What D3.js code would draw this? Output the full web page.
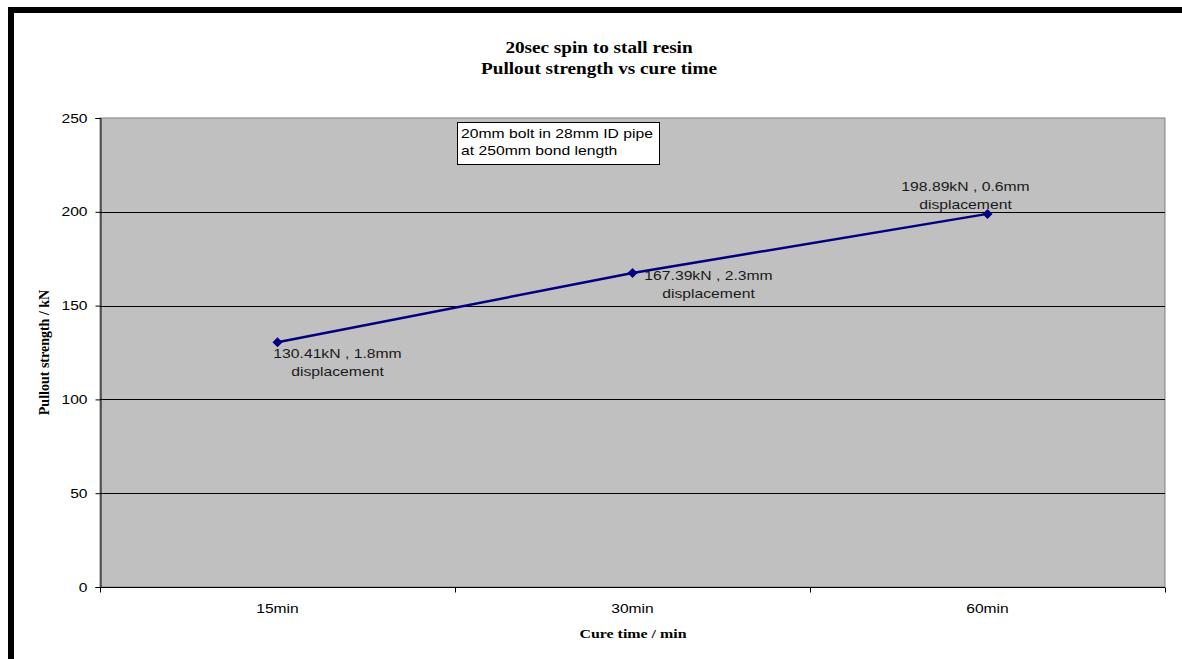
<!DOCTYPE html>
<html>
<head>
<meta charset="utf-8">
<script src="https://cdn.jsdelivr.net/npm/d3@7"></script>
<style>
  html, body { margin: 0; padding: 0; background: #fff; }
  svg { display: block; }
</style>
</head>
<body>
<svg id="chart" width="1182" height="659"></svg>
<script>
// Pullout test results
const categories = ["15min", "30min", "60min"];
const strength = [130.41, 167.39, 198.89];
const displacement = ["1.8mm", "2.3mm", "0.6mm"];
const yTicks = [0, 50, 100, 150, 200, 250];
const titleLines = ["20sec spin to stall resin", "Pullout strength vs cure time"];
const noteLines = ["20mm bolt in 28mm ID pipe", "at 250mm bond length"];
// label placement relative to each point (dx, dy of first line)
const labelOffsets = [[60, 11], [76, 2], [-22, -27]];

const SANS = "Liberation Sans, Arial, sans-serif";
const SERIF = "Liberation Serif, Times New Roman, serif";
const SX = 1.2; // wide glyph proportions of the original export

const svg = d3.select("#chart");
const W = 1182, H = 659;
const plot = { left: 100, top: 118, right: 1165, bottom: 587 };

// places text at (x, y) with horizontally widened glyphs
function wideText(parent, x, y, lines, opt) {
  const t = parent.append("text")
    .attr("transform", `translate(${x},${y}) scale(${opt.sx || SX},1)`)
    .attr("text-anchor", opt.anchor || "middle")
    .attr("font-family", opt.family || SANS)
    .attr("font-weight", opt.weight || "normal")
    .attr("font-size", opt.size || 13)
    .attr("fill", opt.fill || "#000");
  lines.forEach((s, i) => {
    t.append("tspan").attr("x", 0).attr("y", i * (opt.lh || 17)).attr("dy", "0.35em").text(s);
  });
  return t;
}

// frame edges
svg.append("rect").attr("x", 8).attr("y", 7).attr("width", W - 8).attr("height", 6).attr("fill", "#000");
svg.append("rect").attr("x", 8).attr("y", 7).attr("width", 6).attr("height", H - 7).attr("fill", "#000");

const x = d3.scaleBand().domain(categories).range([plot.left, plot.right]);
const y = d3.scaleLinear().domain([0, 250]).range([plot.bottom, plot.top]);

// plot background
svg.append("rect")
  .attr("x", plot.left).attr("y", plot.top)
  .attr("width", plot.right - plot.left).attr("height", plot.bottom - plot.top)
  .attr("fill", "#c0c0c0").attr("stroke", "#808080").attr("stroke-width", 1);

// gridlines
svg.append("g").selectAll("line").data(yTicks.filter(d => d > 0 && d < 250)).join("line")
  .attr("x1", plot.left).attr("x2", plot.right)
  .attr("y1", d => Math.round(y(d)) + 0.5).attr("y2", d => Math.round(y(d)) + 0.5)
  .attr("stroke", "#000").attr("stroke-width", 1);

// y axis
const yAxis = svg.append("g").attr("transform", `translate(${plot.left + 0.5},0)`)
  .call(d3.axisLeft(y).tickValues(yTicks).tickSize(5).tickPadding(7));
yAxis.select(".domain").attr("stroke", "#000");
yAxis.selectAll(".tick line").attr("stroke", "#000");
yAxis.selectAll(".tick text")
  .attr("x", -13 / SX).attr("transform", `scale(${SX},1)`)
  .attr("font-family", SANS).attr("font-size", 13).attr("fill", "#000");

// x axis with ticks on category boundaries
const xAxisG = svg.append("g").attr("transform", `translate(0,${plot.bottom + 0.5})`);
xAxisG.append("line").attr("x1", plot.left).attr("x2", plot.right).attr("stroke", "#000");
const bounds = categories.map(c => x(c)).concat([x(categories[categories.length - 1]) + x.bandwidth()]);
xAxisG.selectAll("line.tk").data(bounds).join("line").attr("class", "tk")
  .attr("x1", d => Math.round(d) + 0.5).attr("x2", d => Math.round(d) + 0.5)
  .attr("y1", 0).attr("y2", 5).attr("stroke", "#000");
categories.forEach(c => wideText(xAxisG, x(c) + x.bandwidth() / 2, 20.5, [c], { size: 13 }));

// series line
const cx = (d, i) => x(categories[i]) + x.bandwidth() / 2;
const line = d3.line().x((d, i) => cx(d, i)).y(d => y(d));
svg.append("path").datum(strength).attr("d", line)
  .attr("fill", "none").attr("stroke", "#000080").attr("stroke-width", 2.5);

// diamond markers
svg.append("g").selectAll("path").data(strength).join("path")
  .attr("transform", (d, i) => `translate(${cx(d, i)},${y(d)})`)
  .attr("d", "M0,-5L5,0L0,5L-5,0Z").attr("fill", "#000080");

// data labels
const lbl = svg.append("g");
strength.forEach((v, i) => {
  wideText(lbl, cx(v, i) + labelOffsets[i][0], y(v) + labelOffsets[i][1],
    [`${v.toFixed(2)}kN , ${displacement[i]}`, "displacement"],
    { size: 13, sx: 1.21, lh: 18, fill: "#1a1a1a" });
});

// title
wideText(svg, 599, 47, titleLines, { family: SERIF, weight: "bold", size: 16, lh: 21 });

// note box
svg.append("rect").attr("x", 457.5).attr("y", 122.5).attr("width", 202).attr("height", 42)
  .attr("fill", "#fff").attr("stroke", "#000").attr("stroke-width", 1);
wideText(svg, 461, 133, noteLines, { anchor: "start", size: 13, sx: 1.21, lh: 17 });

// axis titles
svg.append("text").attr("transform", `translate(44,${(plot.top + plot.bottom) / 2}) rotate(-90)`)
  .attr("text-anchor", "middle").attr("dy", "0.35em")
  .attr("font-family", SERIF).attr("font-weight", "bold")
  .attr("font-size", 14).attr("fill", "#000").text("Pullout strength / kN");
wideText(svg, 633, 633, ["Cure time / min"], { family: SERIF, weight: "bold", size: 13.5, sx: 1.18 });
</script>
</body>
</html>
